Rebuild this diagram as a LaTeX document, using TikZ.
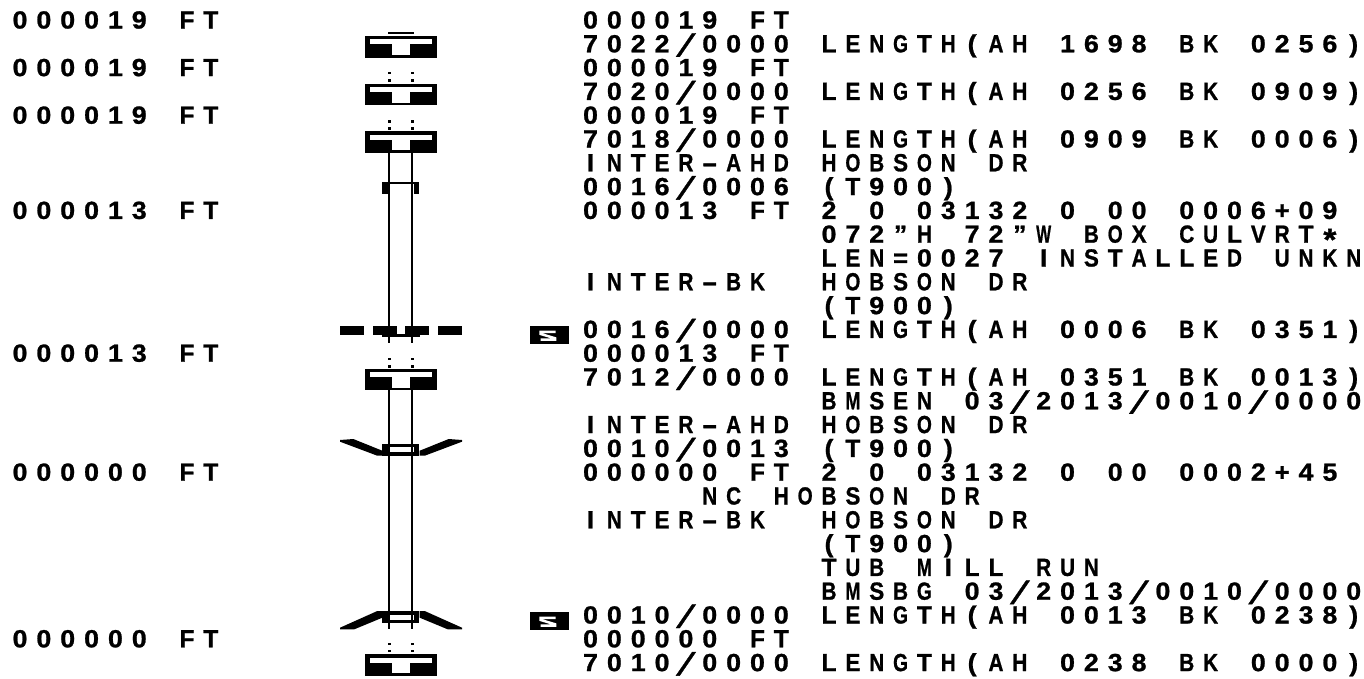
\documentclass[tikz,border=0pt]{standalone}
\usepackage{fontspec}
\usepackage{graphicx}
\setmainfont{Liberation Sans}[BoldFeatures={FakeBold=1,FakeStretch=1.08}]
\newlength{\pitchw}\setlength{\pitchw}{23.85pt}
\makeatletter
\def\ch@slash{/}\def\ch@dash{-}\def\ch@eq{=}\def\ch@star{*}
\newcommand{\gcell}[1]{\hbox to \pitchw{\hss
  \edef\ch@x{#1}%
  \ifx\ch@x\ch@slash\raisebox{-4.5pt}{\scalebox{1.38}{^^^^2044}}%
  \else\ifx\ch@x\ch@dash\resizebox{16pt}{\height}{-}%
  \else\ifx\ch@x\ch@eq\resizebox{15pt}{\height}{=}%
  \else\ifx\ch@x\ch@star\raisebox{-7.5pt}{\scalebox{1.25}{#1}}%
  \else\sbox0{#1}\ifdim\wd0>15pt\resizebox{15pt}{\height}{#1}\else\box0\fi
  \fi\fi\fi\fi\hss}}
\def\g@w#1{\@tfor\g@t:=#1\do{\gcell{\g@t}}}
\def\g@a#1 #2\@nil{\g@w{#1}\ifx\relax#2\relax\else\hbox to \pitchw{\hfil}\g@a#2\@nil\fi}
\newcommand{\gtxt}[1]{\fontsize{24.8}{24}\selectfont\bfseries\g@a#1 \@nil}
\makeatother
\tikzset{
  txt/.style={inner sep=0pt,outer sep=0pt,anchor=base west,font=\bfseries},
  stemline/.style={draw=black,line width=1.7pt},
  pics/blocksym/.style={code={
    \fill[black] (-36,0) rectangle (36,21.3);
    \fill[white] (-31.3,3.4) rectangle (31.3,8.4);
    \fill[white] (-8.7,8.3) rectangle (8.7,18.7);
  }},
  pics/dotpair/.style={code={
    \fill[black] (-12.7,-1.2) rectangle (-10.3,1.2);
    \fill[black] (10.3,-1.2) rectangle (12.7,1.2);
  }},
  pics/sicon/.style={code={
    \fill[black] (0,0) rectangle (38.7,17.4);
    \draw[white,line width=2.5pt] (25.2,5.6) -- (10.2,5.6) -- (10.2,7.6) -- (24.8,12) -- (24.8,13.2) -- (10.2,13.2);
  }}
}
\begin{document}
\begin{tikzpicture}[x=1pt,y=-1pt,declare function={rowy(\n)=28.5+23.8*(\n-1);}]
\useasboundingbox (0,0) rectangle (1364,678);
% left column
\node[txt] (l1) at (8.1,{rowy(1)}) {\gtxt{000019 FT}};
\node[txt] (l3) at (8.1,{rowy(3)}) {\gtxt{000019 FT}};
\node[txt] (l5) at (8.1,{rowy(5)}) {\gtxt{000019 FT}};
\node[txt] (l9) at (8.1,{rowy(9)}) {\gtxt{000013 FT}};
\node[txt] (l15) at (8.1,{rowy(15)}) {\gtxt{000013 FT}};
\node[txt] (l20) at (8.1,{rowy(20)}) {\gtxt{000000 FT}};
\node[txt] (l27) at (8.1,{rowy(27)}) {\gtxt{000000 FT}};
% right column
\node[txt] (m1) at (578.6,{rowy(1)}) {\gtxt{000019 FT}};
\node[txt] (m2) at (578.6,{rowy(2)}) {\gtxt{7022/0000 LENGTH(AH 1698 BK 0256)}};
\node[txt] (m3) at (578.6,{rowy(3)}) {\gtxt{000019 FT}};
\node[txt] (m4) at (578.6,{rowy(4)}) {\gtxt{7020/0000 LENGTH(AH 0256 BK 0909)}};
\node[txt] (m5) at (578.6,{rowy(5)}) {\gtxt{000019 FT}};
\node[txt] (m6) at (578.6,{rowy(6)}) {\gtxt{7018/0000 LENGTH(AH 0909 BK 0006)}};
\node[txt] (m7) at (578.6,{rowy(7)}) {\gtxt{INTER-AHD HOBSON DR}};
\node[txt] (m8) at (578.6,{rowy(8)}) {\gtxt{0016/0006 (T900)}};
\node[txt] (m9) at (578.6,{rowy(9)}) {\gtxt{000013 FT 2 0 03132 0 00 0006+09}};
\node[txt] (m10) at (817.1,{rowy(10)}) {\gtxt{072"H 72"W BOX CULVRT*}};
\node[txt] (m11) at (817.1,{rowy(11)}) {\gtxt{LEN=0027 INSTALLED UNKN}};
\node[txt] (m12a) at (578.6,{rowy(12)}) {\gtxt{INTER-BK}};
\node[txt] (m12b) at (817.1,{rowy(12)}) {\gtxt{HOBSON DR}};
\node[txt] (m13) at (817.1,{rowy(13)}) {\gtxt{(T900)}};
\node[txt] (m14) at (578.6,{rowy(14)}) {\gtxt{0016/0000 LENGTH(AH 0006 BK 0351)}};
\node[txt] (m15) at (578.6,{rowy(15)}) {\gtxt{000013 FT}};
\node[txt] (m16) at (578.6,{rowy(16)}) {\gtxt{7012/0000 LENGTH(AH 0351 BK 0013)}};
\node[txt] (m17) at (817.1,{rowy(17)}) {\gtxt{BMSEN 03/2013/0010/0000}};
\node[txt] (m18) at (578.6,{rowy(18)}) {\gtxt{INTER-AHD HOBSON DR}};
\node[txt] (m19) at (578.6,{rowy(19)}) {\gtxt{0010/0013 (T900)}};
\node[txt] (m20) at (578.6,{rowy(20)}) {\gtxt{000000 FT 2 0 03132 0 00 0002+45}};
\node[txt] (m21) at (697.85,{rowy(21)}) {\gtxt{NC HOBSON DR}};
\node[txt] (m22a) at (578.6,{rowy(22)}) {\gtxt{INTER-BK}};
\node[txt] (m22b) at (817.1,{rowy(22)}) {\gtxt{HOBSON DR}};
\node[txt] (m23) at (817.1,{rowy(23)}) {\gtxt{(T900)}};
\node[txt] (m24) at (817.1,{rowy(24)}) {\gtxt{TUB MILL RUN}};
\node[txt] (m25) at (817.1,{rowy(25)}) {\gtxt{BMSBG 03/2013/0010/0000}};
\node[txt] (m26) at (578.6,{rowy(26)}) {\gtxt{0010/0000 LENGTH(AH 0013 BK 0238)}};
\node[txt] (m27) at (578.6,{rowy(27)}) {\gtxt{000000 FT}};
\node[txt] (m28) at (578.6,{rowy(28)}) {\gtxt{7010/0000 LENGTH(AH 0238 BK 0000)}};
% S icons
\pic at (530.3,326.3) {sicon};
\pic at (530.3,612.3) {sicon};
% top symbol
\fill[black] (388.3,32) rectangle (413.7,34);
\fill[black] (365,35.7) rectangle (437,58.3);
\fill[white] (369.7,39.3) rectangle (432.3,44.4);
\fill[white] (392.3,44.3) rectangle (409.7,55);
% other block symbols
\pic at (401,84) {blocksym};
\pic at (401,131.3) {blocksym};
\pic at (401,369) {blocksym};
\pic at (401,654.4) {blocksym};
% dots
\pic at (401,73) {dotpair};
\pic at (401,80.3) {dotpair};
\pic at (401,121.3) {dotpair};
\pic at (401,128.3) {dotpair};
\pic at (401,359) {dotpair};
\pic at (401,366.3) {dotpair};
\pic at (401,644) {dotpair};
\pic at (401,651) {dotpair};
% bracket at 183
\fill[black] (382.3,182) rectangle (387.6,194.3);
\fill[black] (414.4,182) rectangle (419.3,194.3);
% dashed deck line
\fill[black] (340,326) rectangle (364.3,334.7);
\fill[black] (373,326) rectangle (397,334.7);
\fill[black] (405,326) rectangle (429,334.7);
\fill[black] (437.7,326) rectangle (461.7,334.7);
\fill[black] (382.3,334) rectangle (419.7,336.7);
% wings and boxes
\fill[black] (340,440) -- (353.3,439) -- (382.3,450.7) -- (382.3,455.7) -- (377.3,455.7) -- (340,441.7) -- cycle;
\fill[black] (462,440) -- (448.7,439) -- (419.7,450.7) -- (419.7,455.7) -- (424.7,455.7) -- (462,441.7) -- cycle;
\fill[black] (382.3,443.7) rectangle (419.3,455.7);
\fill[white] (387.5,446.7) rectangle (414.3,452);
\fill[black] (340,627.7) -- (377.3,611) -- (382.3,611) -- (382.3,617.7) -- (354.3,629.3) -- (340,629.3) -- cycle;
\fill[black] (462,627.7) -- (424.7,611) -- (419.7,611) -- (419.7,617.7) -- (447.7,629.3) -- (462,629.3) -- cycle;
\fill[black] (382.3,611) rectangle (419.3,622.7);
\fill[white] (387.5,615) rectangle (414.3,620);
% stem lines
\coordinate (sa1) at (389.3,152);
\coordinate (sa2) at (389.3,343);
\coordinate (sb1) at (412.3,152);
\coordinate (sb2) at (412.3,343);
\coordinate (sc1) at (389.3,390);
\coordinate (sc2) at (389.3,629);
\coordinate (sd1) at (412.3,390);
\coordinate (sd2) at (412.3,629);
\draw[stemline] (sa1) -- (sa2);
\draw[stemline] (sb1) -- (sb2);
\draw[stemline] (sc1) -- (sc2);
\draw[stemline] (sd1) -- (sd2);
\draw[black,line width=1.7pt] (382.3,182.8) -- (419.3,182.8);
\end{tikzpicture}
\end{document}
